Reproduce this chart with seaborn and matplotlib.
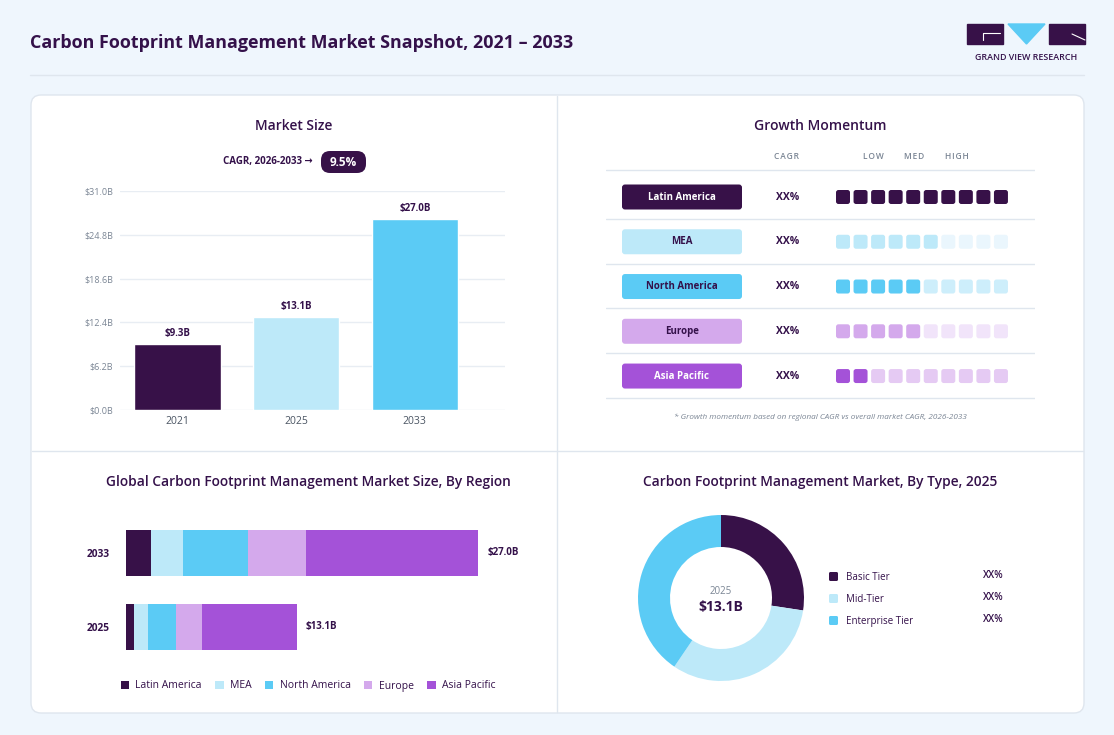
import matplotlib
matplotlib.use("Agg")
import matplotlib.pyplot as plt
import seaborn as sns
from matplotlib.patches import FancyBboxPatch, Rectangle, Polygon, Patch

# ---- data -------------------------------------------------------------
YEARS = ["2021", "2025", "2033"]
MARKET_SIZE = [9.3, 13.1, 27.0]
Y_TICKS = [0.0, 6.2, 12.4, 18.6, 24.8, 31.0]
CAGR_LABEL = "CAGR, 2026-2033"
CAGR_VALUE = "9.5%"

REGIONS = ["Latin America", "MEA", "North America", "Europe", "Asia Pacific"]
MOMENTUM_FILLED = [10, 6, 5, 5, 2]
MOMENTUM_CAGR = ["XX%", "XX%", "XX%", "XX%", "XX%"]
MOMENTUM_LEVELS = ["LOW", "MED", "HIGH"]

STACK_YEARS = ["2025", "2033"]
REGION_2025 = [0.61, 1.07, 2.15, 1.99, 7.28]
REGION_2033 = [1.92, 2.45, 4.98, 4.45, 13.20]
STACK_TOTALS = [13.1, 27.0]

TYPES = ["Basic Tier", "Mid-Tier", "Enterprise Tier"]
TYPE_SHARES = [27.4, 32.1, 40.5]
TYPE_LABELS = ["XX%", "XX%", "XX%"]

# ---- style ------------------------------------------------------------
W, H = 1114, 735
BG = "#EFF6FD"
DARK = "#34114A"
GRAY = "#7A8594"
LINE = "#DFE6EE"
REGION_COLORS = ["#371148", "#BDE9F9", "#5BCBF5", "#D4A9EC", "#A452D8"]
REGION_EMPTY = ["#371148", "#EAF6FD", "#CDEEFB", "#F1E4FA", "#E5CAF3"]
REGION_TEXT = ["white", DARK, DARK, DARK, "white"]
TYPE_COLORS = ["#371148", "#BDE9F9", "#5BCBF5"]

sns.set_theme(style="white")
plt.rcParams["font.family"] = ["Open Sans", "DejaVu Sans"]

fig = plt.figure(figsize=(W / 100, H / 100), dpi=100, facecolor=BG)


def px_axes(x0, y0, x1, y1, **kw):
    return fig.add_axes([x0 / W, 1 - y1 / H, (x1 - x0) / W, (y1 - y0) / H], **kw)


def spaced(s):
    return "\u200a".join(s)


# background / frame axes in pixel coordinates
bg = px_axes(0, 0, W, H)
bg.set_xlim(0, W)
bg.set_ylim(H, 0)
bg.axis("off")
bg.patch.set_alpha(0)

bg.text(30, 43, "Carbon Footprint Management Market Snapshot, 2021 – 2033",
        fontsize=12.9, fontweight="bold", color=DARK, va="center", ha="left")
bg.plot([30, 1084], [75, 75], color=LINE, lw=1)

# logo
bg.add_patch(Rectangle((967, 24), 36, 20, color="#371148"))
bg.plot([983, 983, 1000], [40, 33, 33], color="white", lw=0.8)
bg.add_patch(Polygon([(1008, 24), (1045, 24), (1026.5, 44)], color="#5BCBF5"))
bg.add_patch(Rectangle((1049, 24), 36, 20, color="#371148"))
bg.plot([1072, 1085], [34, 40], color="white", lw=0.8)
bg.text(1026, 57, "GRAND VIEW RESEARCH", fontsize=6.4, fontweight="semibold", color=DARK,
        ha="center", va="center")

# card
bg.add_patch(FancyBboxPatch((31, 95), 1053, 618, boxstyle="round,pad=0,rounding_size=10",
                            facecolor="white", edgecolor=LINE, lw=1))
bg.plot([557, 557], [96, 712], color=LINE, lw=1)
bg.plot([32, 1083], [451, 451], color=LINE, lw=1)

# panel titles
bg.text(294, 126, "Market Size", fontsize=10, color=DARK, ha="center", va="center", fontweight="semibold")
bg.text(820, 126, "Growth Momentum", fontsize=10, color=DARK, ha="center", va="center", fontweight="semibold")
bg.text(308, 482, "Global Carbon Footprint Management Market Size, By Region", fontsize=9.9,
        color=DARK, ha="center", va="center", fontweight="semibold")
bg.text(820, 482, "Carbon Footprint Management Market, By Type, 2025", fontsize=9.9,
        color=DARK, ha="center", va="center", fontweight="semibold")

# CAGR pill
bg.text(313, 161, CAGR_LABEL + " \u2192", fontsize=7, fontweight="bold", color=DARK, ha="right", va="center")
bg.add_patch(FancyBboxPatch((321, 151), 45, 22, boxstyle="round,pad=0,rounding_size=9",
                            facecolor="#371148", edgecolor="none"))
bg.text(343.5, 162, CAGR_VALUE, fontsize=8.5, fontweight="bold", color="white", ha="center", va="center")

# ---- market size bars ---------------------------------------------------
ax1 = px_axes(120, 191, 505, 410)
sns.barplot(x=YEARS, y=MARKET_SIZE, hue=YEARS, palette=REGION_COLORS[:3], legend=False,
            width=0.73, saturation=1, ax=ax1, zorder=3)
ax1.set_xlim(-0.485, 2.76)
ax1.set_ylim(0, 31)
ax1.set_yticks(Y_TICKS)
ax1.set_yticklabels([f"${v:.1f}B" for v in Y_TICKS])
ax1.tick_params(axis="y", length=0, pad=5, labelsize=6.5, labelcolor=GRAY)
ax1.tick_params(axis="x", length=0, pad=4, labelsize=7.5, labelcolor="#4B5563")
for v in Y_TICKS:
    ax1.axhline(v, color="#E8EDF3", lw=1, zorder=0)
sns.despine(ax=ax1, left=True, bottom=True)
ax1.set_xlabel("")
ax1.set_ylabel("")
for i, v in enumerate(MARKET_SIZE):
    ax1.annotate(f"${v:.1f}B", (i, v), xytext=(0, 8), textcoords="offset points",
                 ha="center", va="center", fontsize=7, fontweight="bold", color=DARK)

# ---- growth momentum table ---------------------------------------------
ax2 = px_axes(606, 150, 1035, 400)
ax2.set_xlim(606, 1035)
ax2.set_ylim(4.535, -1.05)
ax2.axis("off")
asp = 1 / 44.76
ax2.text(786, -0.894, spaced("CAGR"), fontsize=6, color=GRAY, ha="center", va="center",
         fontweight="semibold")
for lx, lab in zip([873, 914, 957], MOMENTUM_LEVELS):
    ax2.text(lx, -0.894, spaced(lab), fontsize=6, color=GRAY, ha="center", va="center",
             fontweight="semibold")
ax2.axhline(-0.603, color=LINE, lw=1)
sq_h = 14 * asp
for r, (name, filled, cagr) in enumerate(zip(REGIONS, MOMENTUM_FILLED, MOMENTUM_CAGR)):
    ax2.axhline(r + 0.49, color=LINE, lw=1)
    ax2.add_patch(FancyBboxPatch((622, r - 12.5 * asp), 120, 25 * asp,
                                 boxstyle="round,pad=0,rounding_size=3", mutation_aspect=asp,
                                 facecolor=REGION_COLORS[r], edgecolor="none"))
    ax2.text(682, r, name, fontsize=7, fontweight="bold", color=REGION_TEXT[r], ha="center", va="center")
    ax2.text(788, r, cagr, fontsize=7.5, fontweight="bold", color=DARK, ha="center", va="center")
    for k in range(10):
        col = REGION_COLORS[r] if k < filled else REGION_EMPTY[r]
        ax2.add_patch(FancyBboxPatch((836 + k * 17.55, r - sq_h / 2), 14, sq_h,
                                     boxstyle="round,pad=0,rounding_size=2.5", mutation_aspect=asp,
                                     facecolor=col, edgecolor="none"))
bg.text(820, 417, "* Growth momentum based on regional CAGR vs overall market CAGR, 2026-2033",
        fontsize=5.9, style="italic", color=GRAY, ha="center", va="center")

# ---- stacked region bars ------------------------------------------------
ax3 = px_axes(126, 516, 526, 664)
ax3.set_xlim(0, 400 / 13.04)
ax3.set_ylim(-0.5, 1.5)
stack = [REGION_2025, REGION_2033]
for row, vals in enumerate(stack):
    left = 0
    for j, v in enumerate(vals):
        ax3.barh(row, v, left=left, height=0.62, color=REGION_COLORS[j], edgecolor="none")
        left += v
    ax3.text(STACK_TOTALS[row] + 0.7, row, f"${STACK_TOTALS[row]:.1f}B", fontsize=7,
             fontweight="bold", color=DARK, va="center", ha="left")
ax3.set_yticks([0, 1])
ax3.set_yticklabels(STACK_YEARS, fontsize=7.3, fontweight="bold", color=DARK)
ax3.set_xticks([])
ax3.tick_params(axis="y", length=0, pad=12)
sns.despine(ax=ax3, left=True, bottom=True)
handles = [Patch(facecolor=c, edgecolor="none", label=n) for c, n in zip(REGION_COLORS, REGIONS)]
fig.legend(handles=handles, loc="center", bbox_to_anchor=(308 / W, 1 - 686 / H), ncol=5,
           frameon=False, fontsize=7.5, handlelength=0.8, handleheight=0.8,
           handletextpad=0.6, columnspacing=1.3, labelcolor=DARK)

# ---- donut --------------------------------------------------------------
ax4 = px_axes(631, 508, 811, 688)
ax4.pie(TYPE_SHARES, colors=TYPE_COLORS, startangle=90, counterclock=False, radius=83 / 90,
        wedgeprops=dict(width=32 / 90, edgecolor="none"))
ax4.set_xlim(-1, 1)
ax4.set_ylim(-1, 1)
ax4.set_aspect("equal")
ax4.text(0, 0.07, "2025", fontsize=7, color=GRAY, ha="center", va="center")
ax4.text(0, -0.1, "$13.1B", fontsize=10, fontweight="bold", color=DARK, ha="center", va="center")
for i, (name, lab) in enumerate(zip(TYPES, TYPE_LABELS)):
    yy = 577 + 22 * i
    bg.add_patch(FancyBboxPatch((829, yy - 5), 9, 9, boxstyle="round,pad=0,rounding_size=1.5",
                                facecolor=TYPE_COLORS[i], edgecolor="none"))
    bg.text(846, yy + 0.5, name, fontsize=7, color=DARK, ha="left", va="center")
    bg.text(1004, yy - 1.5, lab, fontsize=7, fontweight="semibold", color=DARK, ha="right", va="center")

fig.savefig("out.png", dpi=100, facecolor=BG)
